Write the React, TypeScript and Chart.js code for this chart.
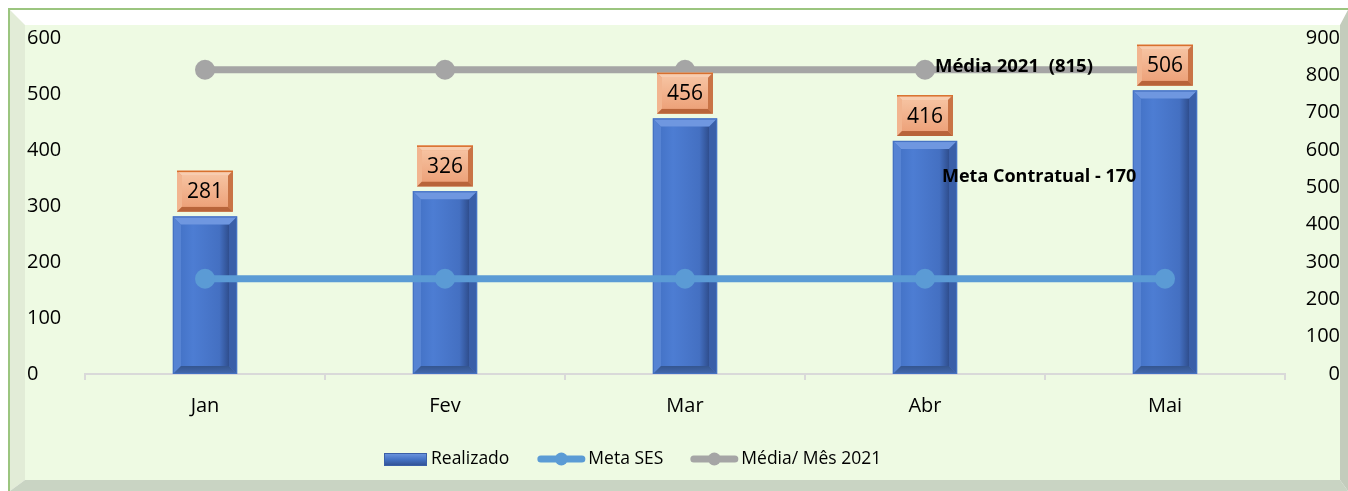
import { useEffect, useRef } from "react";
import { Chart, registerables } from "chart.js";

Chart.register(...registerables);

const categories = ["Jan", "Fev", "Mar", "Abr", "Mai"];
const realizado = [281, 326, 456, 416, 506];
const metaSES = [170, 170, 170, 170, 170];
const mediaMes = [815, 815, 815, 815, 815];
const leftAxisTicks = [0, 100, 200, 300, 400, 500, 600];
const rightAxisTicks = [0, 100, 200, 300, 400, 500, 600, 700, 800, 900];
const seriesNames = ["Realizado", "Meta SES", "Média/ Mês 2021"];
const mediaNote = "Média 2021  (815)";
const metaNote = "Meta Contratual - 170";
const metaNoteLevel = 352;

const FONT = "'Open Sans', 'DejaVu Sans', sans-serif";
const W = 1348;
const H = 491;

function poly(ctx: CanvasRenderingContext2D, pts: number[][], color: string | CanvasGradient) {
  ctx.beginPath();
  ctx.moveTo(pts[0][0], pts[0][1]);
  for (let i = 1; i < pts.length; i++) ctx.lineTo(pts[i][0], pts[i][1]);
  ctx.closePath();
  ctx.fillStyle = color;
  ctx.fill();
}

const framePlugin = {
  id: "frame",
  beforeDraw(chart: any) {
    const ctx: CanvasRenderingContext2D = chart.ctx;
    const w = chart.width;
    const h = chart.height;
    ctx.save();
    ctx.fillStyle = "#ffffff";
    ctx.fillRect(0, 0, w, h);
    ctx.fillStyle = "#9BC57F";
    ctx.fillRect(8, 8, w - 8, 2);
    ctx.fillRect(8, 8, 2, h - 8);
    const L = 10, T = 10, R = w, B = h;
    const iL = 25, iT = 25, iR = w - 8, iB = h - 11;
    poly(ctx, [[L, T], [R, T], [iR, iT], [iL, iT]], "#ffffff");
    poly(ctx, [[L, T], [iL, iT], [iL, iB], [L, B]], "#E2ECD7");
    poly(ctx, [[R, T], [R, B], [iR, iB], [iR, iT]], "#C3CCBC");
    poly(ctx, [[L, B], [R, B], [iR, iB], [iL, iB]], "#C9D4C3");
    ctx.fillStyle = "#EEFAE3";
    ctx.fillRect(iL, iT, iR - iL, iB - iT);
    ctx.restore();
  },
};

function drawBarBevel(ctx: CanvasRenderingContext2D, x: number, top: number, base: number, width: number) {
  const L = x - width / 2, R = x + width / 2, T = top, B = base;
  const b = 8;
  poly(ctx, [[L, T], [R, T], [R, B], [L, B]], "#4A77CA");
  poly(ctx, [[L, T], [R, T], [R - b, T + b], [L + b, T + b]], "#6F97E0");
  poly(ctx, [[L, T], [L + b, T + b], [L + b, B - b], [L, B]], "#5683D3");
  poly(ctx, [[R, T], [R, B], [R - b, B - b], [R - b, T + b]], "#3A5FA8");
  const bg = ctx.createLinearGradient(0, B - b, 0, B);
  bg.addColorStop(0, "#34558F");
  bg.addColorStop(1, "#4469B0");
  poly(ctx, [[L, B], [R, B], [R - b, B - b], [L + b, B - b]], bg);
  const fg = ctx.createLinearGradient(L + b, 0, R - b, 0);
  fg.addColorStop(0, "#4574C8");
  fg.addColorStop(0.25, "#4D7DD3");
  fg.addColorStop(0.8, "#4470C2");
  fg.addColorStop(1, "#2F4E8E");
  ctx.fillStyle = fg;
  ctx.fillRect(L + b, T + b, R - L - 2 * b, B - T - 2 * b);
  ctx.strokeStyle = "#4572C2";
  ctx.lineWidth = 1;
  ctx.strokeRect(L + 0.5, T + 0.5, R - L - 1, B - T - 1);
}

function drawLabelBox(ctx: CanvasRenderingContext2D, cx: number, bottom: number, text: string) {
  const w = 56, h = 41, b = 5;
  const L = cx - w / 2, R = cx + w / 2, T = bottom - h, B = bottom;
  poly(ctx, [[L, T], [R, T], [R, B], [L, B]], "#EFA47B");
  poly(ctx, [[L, T], [R, T], [R - b, T + b], [L + b, T + b]], "#F8CDB0");
  poly(ctx, [[L, T], [L + b, T + b], [L + b, B - b], [L, B]], "#F2B590");
  poly(ctx, [[R, T], [R, B], [R - b, B - b], [R - b, T + b]], "#C97446");
  poly(ctx, [[L, B], [R, B], [R - b, B - b], [L + b, B - b]], "#B8643A");
  const fg = ctx.createLinearGradient(0, T + b, 0, B - b);
  fg.addColorStop(0, "#F6C2A0");
  fg.addColorStop(1, "#EDA27A");
  ctx.fillStyle = fg;
  ctx.fillRect(L + b, T + b, w - 2 * b, h - 2 * b);
  ctx.fillStyle = "#D8702E";
  ctx.fillRect(L, T, w, 1.5);
  ctx.fillStyle = "#000000";
  ctx.font = `21px ${FONT}`;
  ctx.textAlign = "center";
  ctx.textBaseline = "middle";
  ctx.fillText(text, cx, T + h / 2 + 1);
}

const bevelPlugin = {
  id: "bevel",
  afterDatasetDraw(chart: any, args: any) {
    if (args.index !== 0) return;
    const ctx: CanvasRenderingContext2D = chart.ctx;
    ctx.save();
    args.meta.data.forEach((el: any) => {
      const p = el.getProps(["x", "y", "base", "width"], true);
      drawBarBevel(ctx, p.x, p.y, p.base, p.width);
    });
    ctx.restore();
  },
};

const overlayPlugin = {
  id: "overlay",
  afterDatasetsDraw(chart: any) {
    const ctx: CanvasRenderingContext2D = chart.ctx;
    ctx.save();
    const meta = chart.getDatasetMeta(0);
    meta.data.forEach((el: any, i: number) => {
      const p = el.getProps(["x", "y"], true);
      drawLabelBox(ctx, p.x, p.y - 5, String(realizado[i]));
    });
    const xs = chart.scales.x;
    const yl = chart.scales.y;
    const yr = chart.scales.y1;
    ctx.fillStyle = "#000000";
    ctx.font = `bold 18.5px ${FONT}`;
    ctx.textAlign = "left";
    ctx.textBaseline = "middle";
    ctx.fillText(mediaNote, xs.getPixelForValue(3) + 10, yr.getPixelForValue(mediaMes[3]) - 3);
    ctx.font = `bold 18px ${FONT}`;
    ctx.fillText(metaNote, xs.getPixelForValue(3) + 17, yl.getPixelForValue(metaNoteLevel));

    // legend
    const ly = 459;
    let x = chart.chartArea.left + 299;
    ctx.font = `17.5px ${FONT}`;
    ctx.textBaseline = "middle";
    const sw = 43;
    const g = ctx.createLinearGradient(0, ly - 6, 0, ly + 7);
    g.addColorStop(0, "#6F97E0");
    g.addColorStop(0.5, "#4472C4");
    g.addColorStop(1, "#2F4E8E");
    ctx.fillStyle = g;
    ctx.fillRect(x, ly - 6, sw, 13);
    ctx.strokeStyle = "#3A5FA8";
    ctx.lineWidth = 1;
    ctx.strokeRect(x + 0.5, ly - 5.5, sw - 1, 12);
    x += sw + 4;
    ctx.fillStyle = "#000000";
    ctx.fillText(seriesNames[0], x, ly);
    x += ctx.measureText(seriesNames[0]).width + 28;
    const lineSym = (color: string) => {
      ctx.strokeStyle = color;
      ctx.lineWidth = 7;
      ctx.lineCap = "round";
      ctx.beginPath();
      ctx.moveTo(x + 3.5, ly);
      ctx.lineTo(x + 48 - 3.5, ly);
      ctx.stroke();
      ctx.fillStyle = color;
      ctx.beginPath();
      ctx.arc(x + 24, ly, 6.5, 0, Math.PI * 2);
      ctx.fill();
      x += 51;
    };
    lineSym("#5B9BD5");
    ctx.fillStyle = "#000000";
    ctx.fillText(seriesNames[1], x, ly);
    x += ctx.measureText(seriesNames[1]).width + 27;
    lineSym("#A5A5A5");
    ctx.fillStyle = "#000000";
    ctx.fillText(seriesNames[2], x, ly);
    ctx.restore();
  },
};

export default function App() {
  const ref = useRef<HTMLCanvasElement | null>(null);
  useEffect(() => {
    if (!ref.current) return;
    const chart = new Chart(ref.current, {
      type: "bar",
      data: {
        labels: categories,
        datasets: [
          {
            type: "bar",
            label: seriesNames[0],
            data: realizado,
            yAxisID: "y",
            backgroundColor: "#4A77CA",
            barThickness: 64,
            order: 3,
          },
          {
            type: "line",
            label: seriesNames[1],
            data: metaSES,
            yAxisID: "y",
            borderColor: "#5B9BD5",
            backgroundColor: "#5B9BD5",
            borderWidth: 7,
            pointRadius: 10,
            pointBorderWidth: 0,
            pointBackgroundColor: "#5B9BD5",
            order: 1,
          },
          {
            type: "line",
            label: seriesNames[2],
            data: mediaMes,
            yAxisID: "y1",
            borderColor: "#A5A5A5",
            backgroundColor: "#A5A5A5",
            borderWidth: 7,
            pointRadius: 10,
            pointBorderWidth: 0,
            pointBackgroundColor: "#A5A5A5",
            order: 2,
          },
        ],
      },
      options: {
        responsive: false,
        animation: false,
        devicePixelRatio: 1,
        layout: { padding: { left: 27, right: 8, top: 38, bottom: 0 } },
        plugins: { legend: { display: false }, tooltip: { enabled: false } },
        scales: {
          x: {
            offset: true,
            grid: { display: true, drawOnChartArea: false, drawTicks: true, tickLength: 6, color: "#D9D9D9", lineWidth: 2, offset: true },
            border: { display: true, color: "#D9D9D9", width: 2 },
            ticks: { font: { family: FONT, size: 20 }, color: "#000000", padding: 14 },
            afterFit: (s: any) => { s.height = 117; },
          },
          y: {
            position: "left",
            min: leftAxisTicks[0],
            max: leftAxisTicks[leftAxisTicks.length - 1],
            grid: { display: false },
            border: { display: false },
            ticks: { stepSize: leftAxisTicks[1] - leftAxisTicks[0], crossAlign: "far", font: { family: FONT, size: 20 }, color: "#000000" },
            afterFit: (s: any) => { s.width = 58; },
          },
          y1: {
            position: "right",
            min: rightAxisTicks[0],
            max: rightAxisTicks[rightAxisTicks.length - 1],
            grid: { display: false },
            border: { display: false },
            ticks: { stepSize: rightAxisTicks[1] - rightAxisTicks[0], crossAlign: "far", font: { family: FONT, size: 20 }, color: "#000000" },
            afterFit: (s: any) => { s.width = 55; },
          },
        },
      },
      plugins: [framePlugin, bevelPlugin, overlayPlugin],
    } as any);
    return () => chart.destroy();
  }, []);
  return (
    <div style={{ position: "fixed", left: 0, top: 0, width: W, height: H }}>
      <canvas ref={ref} width={W} height={H} style={{ display: "block", width: W, height: H }} />
    </div>
  );
}
